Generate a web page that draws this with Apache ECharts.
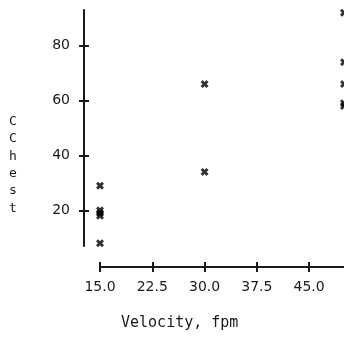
<!DOCTYPE html>
<html>
<head>
<meta charset="utf-8">
<style>
  html, body { margin: 0; padding: 0; background: #fff; }
  #chart { width: 344px; height: 338px; }
</style>
<script src="https://cdn.jsdelivr.net/npm/echarts@6/dist/echarts.min.js"></script>
</head>
<body>
<div id="chart"></div>
<script>
// Velocity (fpm) of each observation
const velocity = [15, 15, 15, 15, 15, 30, 30, 50, 50, 50, 50, 50];
// CChest reading of each observation
const cchest = [29, 20, 19, 18, 8, 66, 34, 92, 74, 66, 59, 58];
// Tick positions
const xTicks = [15, 22.5, 30, 37.5, 45];
const yTicks = [20, 40, 60, 80];
// Axis extents (range frame)
const xRange = [15, 50];
const yRange = [7, 93];

const FONT = 'DejaVu Sans';
const INK = '#1a1a1a';

const points = velocity.map((v, i) => [v, cchest[i]]);

// heavy "x" marker
const crossPath = 'path://M0,1.8 L1.8,0 L3.5,1.7 L5.2,0 L7,1.8 L5.3,3.5 L7,5.2 L5.2,7 L3.5,5.3 L1.8,7 L0,5.2 L1.7,3.5 Z';

const chart = echarts.init(document.getElementById('chart'), null, { renderer: 'canvas' });

const baseX = {
  type: 'value', min: xRange[0], max: xRange[1], position: 'bottom', offset: 21,
  splitLine: { show: false }
};
const baseY = {
  type: 'value', min: yRange[0], max: yRange[1], position: 'left', offset: 16,
  splitLine: { show: false }
};

chart.setOption({
  animation: false,
  backgroundColor: '#fff',
  grid: { left: 100, right: 0, top: 10, bottom: 92, containLabel: false },
  xAxis: [
    Object.assign({}, baseX, {
      axisLine: { show: true, lineStyle: { color: INK, width: 2 } },
      axisTick: { show: true, inside: false, length: 5, customValues: xTicks, lineStyle: { color: INK, width: 2 } },
      axisLabel: {
        show: true, customValues: xTicks, margin: 13, color: INK,
        fontFamily: FONT, fontSize: 14,
        formatter: v => Number(v).toFixed(1)
      }
    }),
    Object.assign({}, baseX, {
      axisLine: { show: false },
      axisTick: { show: true, inside: true, length: 5, customValues: xTicks, lineStyle: { color: INK, width: 2 } },
      axisLabel: { show: false }
    })
  ],
  yAxis: [
    Object.assign({}, baseY, {
      axisLine: { show: true, lineStyle: { color: INK, width: 2 } },
      axisTick: { show: true, inside: false, length: 5, customValues: yTicks, lineStyle: { color: INK, width: 2 } },
      axisLabel: {
        show: true, customValues: yTicks, margin: 14, color: INK,
        fontFamily: FONT, fontSize: 14
      }
    }),
    Object.assign({}, baseY, {
      axisLine: { show: false },
      axisTick: { show: true, inside: true, length: 5, customValues: yTicks, lineStyle: { color: INK, width: 2 } },
      axisLabel: { show: false }
    })
  ],
  graphic: [
    {
      type: 'text', left: 121, top: 316,
      style: { text: 'Velocity, fpm', fill: INK, font: '15px "DejaVu Sans Mono"' }
    },
    {
      type: 'text', x: 13, y: 113,
      style: {
        text: 'C\nC\nh\ne\ns\nt', fill: INK, align: 'center',
        font: '13px "DejaVu Sans Mono"', lineHeight: 17.3
      }
    }
  ],
  series: [{
    type: 'scatter',
    xAxisIndex: 0, yAxisIndex: 0,
    data: points,
    symbol: crossPath,
    symbolSize: 8,
    itemStyle: { color: '#000' },
    clip: false
  }]
});
</script>
</body>
</html>
